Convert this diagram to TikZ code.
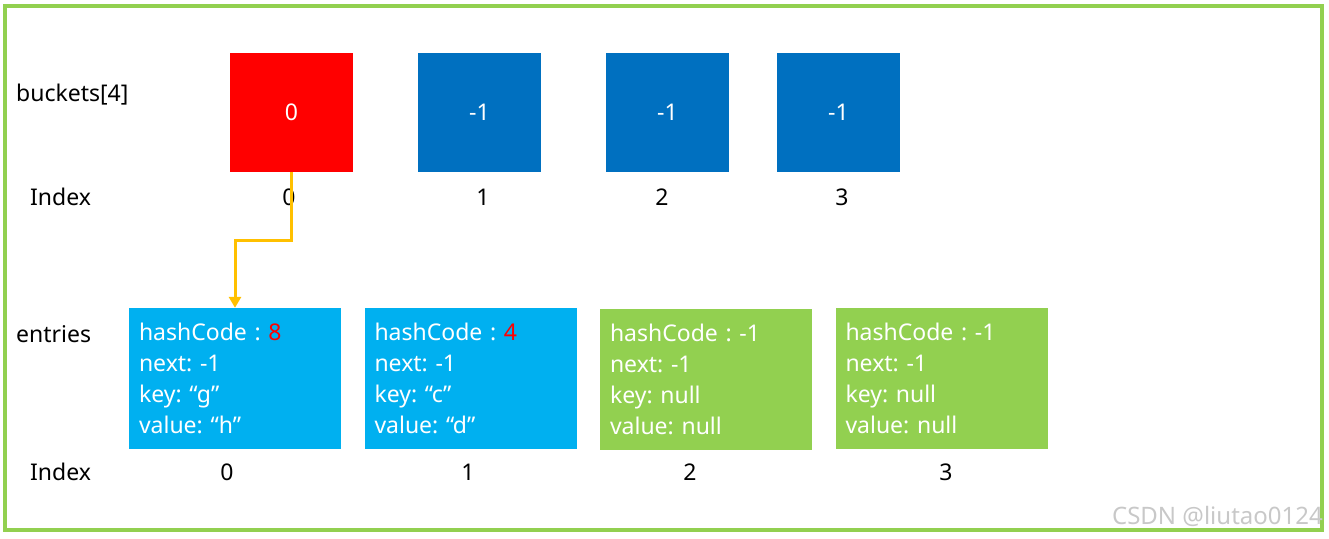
\documentclass[tikz,border=0pt]{standalone}
\usepackage{fontspec}
\setmainfont{Noto Sans}
\frenchspacing
\usetikzlibrary{arrows.meta}
\definecolor{frameg}{HTML}{92D050}
\definecolor{bblue}{HTML}{0070C0}
\definecolor{eblue}{HTML}{00B0F0}
\definecolor{egreen}{HTML}{92D050}
\definecolor{arrowy}{HTML}{FFC000}
\definecolor{wm}{HTML}{C8C8C8}
\begin{document}
\begin{tikzpicture}[x=1pt,y=-1pt,
  bucket/.style={rectangle,inner sep=0,minimum width=123,minimum height=119,text=white,font=\fontsize{23}{27}\selectfont},
  entry/.style={rectangle,inner sep=0,minimum width=212,minimum height=141,text width=192,align=left,text=white,font=\fontsize{23}{31}\selectfont},
  lbl/.style={inner sep=0,font=\fontsize{23}{27}\selectfont},
  conn/.style={draw=arrowy,line width=3pt,-{Triangle[length=11pt,width=12pt]}}]
\useasboundingbox (0,0) rectangle (1329,538);
\draw[frameg,line width=4pt] (5,6) rectangle (1322,530);
% buckets
\node[bucket,fill=red] (b0) at (291.5,112.5) {0};
\node[bucket,fill=bblue] (b1) at (479.5,112.5) {-1};
\node[bucket,fill=bblue] (b2) at (667.5,112.5) {-1};
\node[bucket,fill=bblue] (b3) at (838.5,112.5) {-1};
\node[lbl,anchor=west] (bl) at (16,95) {buckets[4]};
\node[lbl,anchor=west] (bi) at (30,197) {Index};
\node[lbl] (i0) at (289,197) {0};
\node[lbl] (i1) at (483,197) {1};
\node[lbl] (i2) at (662,197) {2};
\node[lbl] (i3) at (842,197) {3};
% entries
\node[entry,fill=eblue] (e0) at (235,378.5) {hashCode : \textcolor{red}{8}\\next: -1\\key: “g”\\value: “h”};
\node[entry,fill=eblue] (e1) at (470.5,378.5) {hashCode : \textcolor{red}{4}\\next: -1\\key: “c”\\value: “d”};
\node[entry,fill=egreen] (e2) at (706,379.5) {hashCode : -1\\next: -1\\key: null\\value: null};
\node[entry,fill=egreen] (e3) at (941.5,378) {hashCode : -1\\next: -1\\key: null\\value: null};
\node[lbl,anchor=west] (el) at (16,334) {entries};
\node[lbl,anchor=west] (ei) at (30,472) {Index};
\node[lbl] (j0) at (227,472) {0};
\node[lbl] (j1) at (468,472) {1};
\node[lbl] (j2) at (690,472) {2};
\node[lbl] (j3) at (946,472) {3};
% arrow
\coordinate (m1) at (291.5,240);
\coordinate (m2) at (235,240);
\draw[conn] (b0.south) -- (m1) -- (m2) -- (m2 |- e0.north);
% watermark
\node[inner sep=0,anchor=east,text=wm,font=\fontsize{24}{28}\selectfont] (wmk) at (1323,516) {CSDN @liutao0124};
\end{tikzpicture}
\end{document}
